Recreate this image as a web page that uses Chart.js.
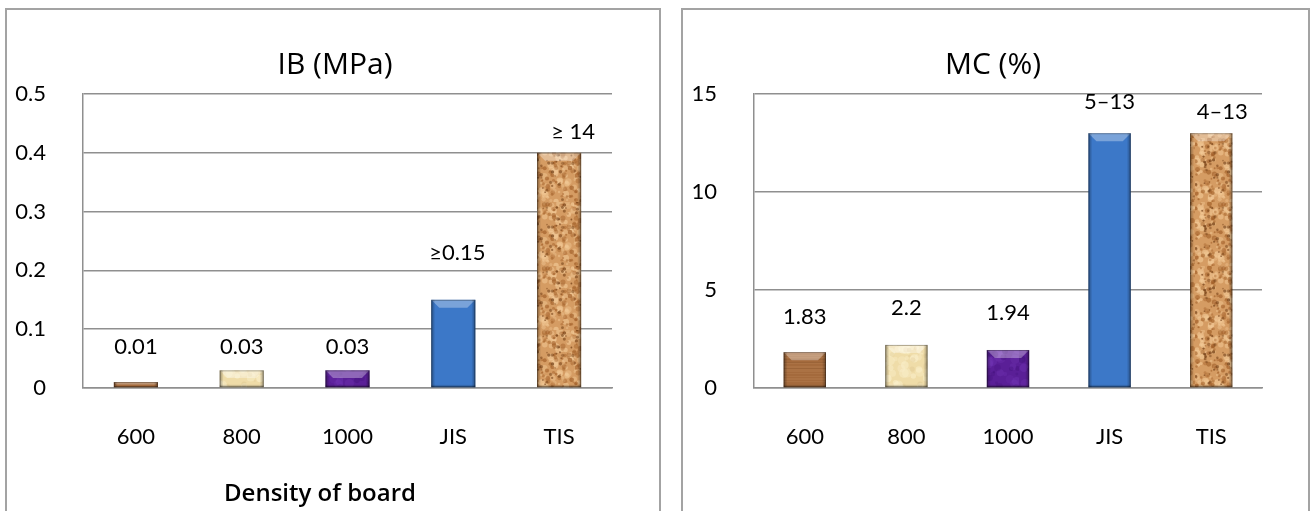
<!DOCTYPE html>
<html>
<head>
<meta charset="utf-8">
<script src="https://cdn.jsdelivr.net/npm/chart.js@4.4.1/dist/chart.umd.min.js"></script>
<style>
  html, body { margin: 0; padding: 0; background: #fff; width: 1312px; height: 511px; overflow: hidden; }
  .panel { position: absolute; top: 8px; border: 2px solid #a3a3a3; background: #fff; }
  #boxIB { left: 5px; width: 652px; height: 520px; }
  #boxMC { left: 681px; width: 625px; height: 520px; }
  canvas { display: block; }
</style>
</head>
<body>
<div class="panel" id="boxIB"><canvas id="ib" width="652" height="501"></canvas></div>
<div class="panel" id="boxMC"><canvas id="mc" width="625" height="501"></canvas></div>
<script>
// Board densities and the two standards
const categories = ['600', '800', '1000', 'JIS', 'TIS'];

// Internal bond strength, MPa
const ibValues = [0.01, 0.03, 0.03, 0.15, 0.4];
const ibLabels = ['0.01', '0.03', '0.03', '≥0.15', '≥ 14'];
const ibTicks = [0, 0.1, 0.2, 0.3, 0.4, 0.5];

// Moisture content, %
const mcValues = [1.83, 2.2, 1.94, 13, 13];
const mcLabels = ['1.83', '2.2', '1.94', '5–13', '4–13'];
const mcTicks = [0, 5, 10, 15];

const FONT = 'Lato, "Open Sans", "DejaVu Sans", sans-serif';
const HEAD_FONT = '"Open Sans", Lato, "DejaVu Sans", sans-serif';

// --- small deterministic generator for the material textures ---
function seeded(seed) {
  let s = seed >>> 0;
  return () => (s = (Math.imul(s, 1664525) + 1013904223) >>> 0) / 4294967296;
}

function speckled(ctx, size, base, spots, seed) {
  const c = document.createElement('canvas');
  c.width = c.height = size;
  const g = c.getContext('2d');
  g.fillStyle = base;
  g.fillRect(0, 0, size, size);
  const r = seeded(seed);
  spots.forEach(([color, count, rMin, rMax, alpha]) => {
    g.fillStyle = color;
    for (let i = 0; i < count; i++) {
      g.globalAlpha = alpha * (0.5 + r() * 0.5);
      g.beginPath();
      g.arc(r() * size, r() * size, rMin + r() * (rMax - rMin), 0, Math.PI * 2);
      g.fill();
    }
  });
  return ctx.createPattern(c, 'repeat');
}

function grained(ctx, w, h, base, light, dark, seed) {
  const c = document.createElement('canvas');
  c.width = w; c.height = h;
  const g = c.getContext('2d');
  g.fillStyle = base;
  g.fillRect(0, 0, w, h);
  const r = seeded(seed);
  for (let y = 0; y < h; y += 1) {
    const k = r();
    if (k < 0.3) { g.globalAlpha = 0.18; g.fillStyle = light; g.fillRect(0, y, w, 1); }
    else if (k > 0.85) { g.globalAlpha = 0.15; g.fillStyle = dark; g.fillRect(0, y, w, 1); }
  }
  return ctx.createPattern(c, 'repeat');
}

function fills(ctx) {
  return [
    grained(ctx, 64, 40, '#a46a3c', '#cf9a6c', '#6e4222', 11),
    speckled(ctx, 48, '#efdca8', [['#fbf1cf', 40, 2, 5, 0.6], ['#d8c08a', 20, 1, 3, 0.35]], 23),
    speckled(ctx, 48, '#5a1f97', [['#7236b5', 30, 2, 5, 0.45], ['#42117a', 30, 1, 4, 0.45]], 37),
    '#3c78c8',
    speckled(ctx, 64, '#d59c63', [
      ['#f2c996', 110, 1.2, 3.5, 0.7],
      ['#a5632c', 120, 0.9, 2.6, 0.75],
      ['#6f3b12', 60, 0.7, 1.8, 0.75]
    ], 53)
  ];
}

// Bevelled look on each bar: light top facet, shaded sides and foot
const bevelPlugin = {
  id: 'bevel',
  afterDatasetsDraw(chart) {
    const ctx = chart.ctx;
    chart.getDatasetMeta(0).data.forEach((bar) => {
      const { x, y, base, width } = bar.getProps(['x', 'y', 'base', 'width'], true);
      const l = x - width / 2, r = x + width / 2, t = y, b = base;
      const h = b - t;
      const s = Math.min(8, h * 0.45);
      ctx.save();
      // top facet
      ctx.beginPath();
      ctx.moveTo(l, t); ctx.lineTo(r, t); ctx.lineTo(r - s, t + s); ctx.lineTo(l + s, t + s); ctx.closePath();
      ctx.fillStyle = 'rgba(255,255,255,0.32)';
      ctx.fill();
      // side shading
      const side = Math.min(4, width / 6);
      let g = ctx.createLinearGradient(l, 0, l + side, 0);
      g.addColorStop(0, 'rgba(0,0,0,0.35)'); g.addColorStop(1, 'rgba(0,0,0,0)');
      ctx.fillStyle = g; ctx.fillRect(l, t, side, h);
      g = ctx.createLinearGradient(r, 0, r - side, 0);
      g.addColorStop(0, 'rgba(0,0,0,0.35)'); g.addColorStop(1, 'rgba(0,0,0,0)');
      ctx.fillStyle = g; ctx.fillRect(r - side, t, side, h);
      // foot shading
      const foot = Math.min(3, h * 0.3);
      g = ctx.createLinearGradient(0, b, 0, b - foot);
      g.addColorStop(0, 'rgba(0,0,0,0.35)'); g.addColorStop(1, 'rgba(0,0,0,0)');
      ctx.fillStyle = g; ctx.fillRect(l, b - foot, width, foot);
      // thin outline
      ctx.strokeStyle = 'rgba(0,0,0,0.3)';
      ctx.lineWidth = 1;
      ctx.strokeRect(l + 0.5, t + 0.5, width - 1, h - 1);
      ctx.restore();
    });
  }
};

// Value labels above the bars, offsets in pixels from the bar top
const valueLabelPlugin = {
  id: 'valueLabels',
  afterDatasetsDraw(chart, args, opts) {
    const ctx = chart.ctx;
    ctx.save();
    ctx.font = opts.font;
    ctx.fillStyle = opts.color;
    ctx.textAlign = 'center';
    ctx.textBaseline = 'middle';
    chart.getDatasetMeta(0).data.forEach((bar, i) => {
      const { x, y } = bar.getProps(['x', 'y'], true);
      ctx.fillText(opts.texts[i], x + opts.dx[i], y - opts.dy[i]);
    });
    ctx.restore();
  }
};

// Chart heading and category-axis caption, placed within the panel
const headingsPlugin = {
  id: 'headings',
  afterDraw(chart, args, opts) {
    const ctx = chart.ctx;
    ctx.save();
    ctx.fillStyle = opts.color;
    ctx.textAlign = 'center';
    ctx.textBaseline = 'middle';
    opts.items.forEach((it) => {
      if (!it.text) return;
      ctx.font = it.font;
      ctx.fillText(it.text, it.x, it.y);
    });
    ctx.restore();
  }
};

function makeChart(id, cfg) {
  const canvas = document.getElementById(id);
  const ctx = canvas.getContext('2d');
  const grid = '#8f8f8f';
  return new Chart(ctx, {
    type: 'bar',
    data: {
      labels: categories,
      datasets: [{
        data: cfg.values,
        backgroundColor: fills(ctx),
        borderWidth: 0,
        barPercentage: 0.4167,
        categoryPercentage: 1
      }]
    },
    options: {
      responsive: false,
      animation: false,
      events: [],
      layout: { padding: { left: 0, right: cfg.padRight, top: 84, bottom: 0 } },
      plugins: {
        legend: { display: false },
        tooltip: { enabled: false },
        title: { display: false },
        valueLabels: {
          texts: cfg.labels,
          dx: cfg.dx,
          dy: cfg.dy,
          font: '22px ' + FONT,
          color: '#000'
        },
        headings: {
          color: '#000',
          items: [
            { text: cfg.title, x: cfg.titleX, y: 55, font: '500 30px ' + HEAD_FONT },
            { text: cfg.caption, x: cfg.captionX, y: 484, font: '600 24px ' + HEAD_FONT }
          ]
        }
      },
      scales: {
        x: {
          grid: { display: false, drawTicks: false },
          border: { display: true, color: grid, width: 1.5 },
          ticks: { color: '#000', font: { family: FONT, size: 22 }, padding: 36 },
          afterFit: (s) => { s.height = 123; }
        },
        y: {
          min: cfg.ticks[0],
          max: cfg.ticks[cfg.ticks.length - 1],
          afterBuildTicks: (s) => { s.ticks = cfg.ticks.map((v) => ({ value: v })); },
          grid: { color: grid, lineWidth: 1.5, drawTicks: false },
          border: { display: true, color: grid, width: 1.5 },
          ticks: { color: '#000', font: { family: FONT, size: 22 }, padding: 37 },
          afterFit: (s) => { s.width = cfg.axisWidth; }
        }
      }
    },
    plugins: [bevelPlugin, valueLabelPlugin, headingsPlugin]
  });
}

makeChart('ib', {
  title: 'IB (MPa)',
  titleX: 328,
  values: ibValues,
  labels: ibLabels,
  ticks: ibTicks,
  dx: [0, 0, 0, 4, 14],
  dy: [35, 23, 23, 47, 21],
  axisWidth: 76,
  padRight: 47,
  caption: 'Density of board',
  captionX: 313
});

makeChart('mc', {
  title: 'MC (%)',
  titleX: 310,
  values: mcValues,
  labels: mcLabels,
  ticks: mcTicks,
  dx: [0, 0, 0, 0, 11],
  dy: [35, 37, 37, 31, 21],
  axisWidth: 71,
  padRight: 46,
  caption: '',
  captionX: 0
});
</script>
</body>
</html>
